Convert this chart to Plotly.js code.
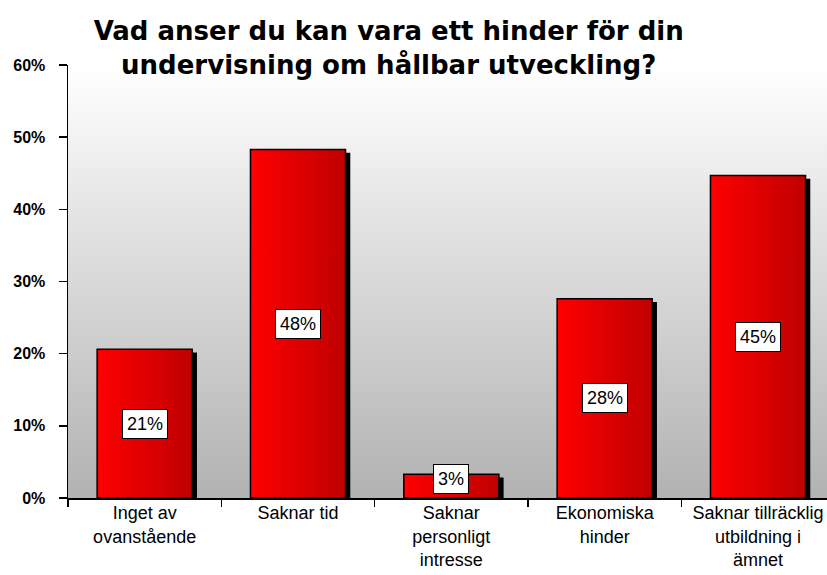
<!DOCTYPE html>
<html>
<head>
<meta charset="utf-8">
<script src="https://cdn.plot.ly/plotly-3.0.1.min.js"></script>
<style>
  body { margin: 0; background: #fff; }
  #chart { width: 827px; height: 575px; }
</style>
</head>
<body>
<div id="chart"></div>
<script>
// Categories and values
const categories = [
    'Inget av<br>ovanstående',
    'Saknar tid',
    'Saknar<br>personligt<br>intresse',
    'Ekonomiska<br>hinder',
    'Saknar tillräcklig<br>utbildning i<br>ämnet'
];
const values = [20.6, 48.3, 3.3, 27.6, 44.7];
const valueLabels = ['21%', '48%', '3%', '28%', '45%'];

const titleText = 'Vad anser du kan vara ett hinder för din<br>undervisning om hållbar utveckling?';

// Background gradient for the plot area (white at top to grey at bottom)
const bgSvg = '<svg xmlns="http://www.w3.org/2000/svg" width="10" height="100" preserveAspectRatio="none">' +
    '<defs><linearGradient id="g" x1="0" y1="0" x2="0" y2="1">' +
    '<stop offset="0" stop-color="#ffffff"/><stop offset="1" stop-color="#b2b2b2"/>' +
    '</linearGradient></defs><rect width="10" height="100" fill="url(#g)"/></svg>';

const barTrace = {
    type: 'bar',
    x: categories,
    y: values,
    width: 0.62,
    marker: {
        color: '#e00000',
        line: {color: '#000000', width: 1.5}
    },
    hoverinfo: 'none'
};

// Boxed value labels in the middle of each bar (lifted a bit for the tiny one)
const annotations = categories.map((c, i) => ({
    x: c,
    y: Math.max(values[i] / 2, 2.7),
    text: valueLabels[i],
    showarrow: false,
    font: {family: 'Liberation Sans, Arial, sans-serif', size: 18, color: '#000'},
    bgcolor: '#ffffff',
    bordercolor: '#000000',
    borderwidth: 1,
    borderpad: 4
}));

const layout = {
    width: 827,
    height: 575,
    margin: {l: 68, r: 0, t: 65, b: 77},
    paper_bgcolor: '#ffffff',
    plot_bgcolor: 'rgba(0,0,0,0)',
    showlegend: false,
    title: {
        text: titleText,
        font: {family: 'DejaVu Sans', size: 26, color: '#000', weight: 'bold'},
        x: 0.47,
        xanchor: 'center',
        y: 0.93,
        yanchor: 'top'
    },
    xaxis: {
        type: 'category',
        range: [-0.5, 4.45],
        showline: true,
        linecolor: '#000',
        linewidth: 1.5,
        ticks: 'outside',
        tickson: 'boundaries',
        ticklen: 7,
        tickwidth: 1.5,
        tickcolor: '#000',
        showgrid: false,
        ticklabelstandoff: -2,
        tickfont: {family: 'Liberation Sans, Arial, sans-serif', size: 18, color: '#000'}
    },
    yaxis: {
        range: [0, 60],
        dtick: 10,
        ticksuffix: '%',
        showline: true,
        linecolor: '#000',
        linewidth: 1.5,
        ticks: 'outside',
        ticklen: 8,
        tickwidth: 1.5,
        tickcolor: '#000',
        showgrid: false,
        zeroline: false,
        ticklabelstandoff: 10,
        tickfont: {family: 'Liberation Sans, Arial, sans-serif', size: 16, color: '#000', weight: 'bold'}
    },
    images: [{
        source: 'data:image/svg+xml;charset=utf-8,' + encodeURIComponent(bgSvg),
        xref: 'paper', yref: 'paper',
        x: 0, y: 1, sizex: 1, sizey: 1,
        xanchor: 'left', yanchor: 'top',
        sizing: 'stretch',
        layer: 'below'
    }],
    annotations: annotations
};

Plotly.newPlot('chart', [barTrace], layout, {displayModeBar: false, staticPlot: true}).then(gd => {
    // Horizontal red gradient and a hard drop shadow on the bars
    const svg = gd.querySelector('.main-svg');
    const ns = 'http://www.w3.org/2000/svg';
    let defs = svg.querySelector('defs');
    const grad = document.createElementNS(ns, 'linearGradient');
    grad.setAttribute('id', 'barGrad');
    grad.setAttribute('x1', '0'); grad.setAttribute('y1', '0');
    grad.setAttribute('x2', '1'); grad.setAttribute('y2', '0');
    [['0', '#ff0000'], ['1', '#bf0000']].forEach(([off, col]) => {
        const s = document.createElementNS(ns, 'stop');
        s.setAttribute('offset', off);
        s.setAttribute('stop-color', col);
        grad.appendChild(s);
    });
    defs.appendChild(grad);
    gd.querySelectorAll('.barlayer .point path').forEach(p => {
        p.style.fill = 'url(#barGrad)';
        p.style.filter = 'drop-shadow(4px 4px 0px #000)';
    });
});
</script>
</body>
</html>
